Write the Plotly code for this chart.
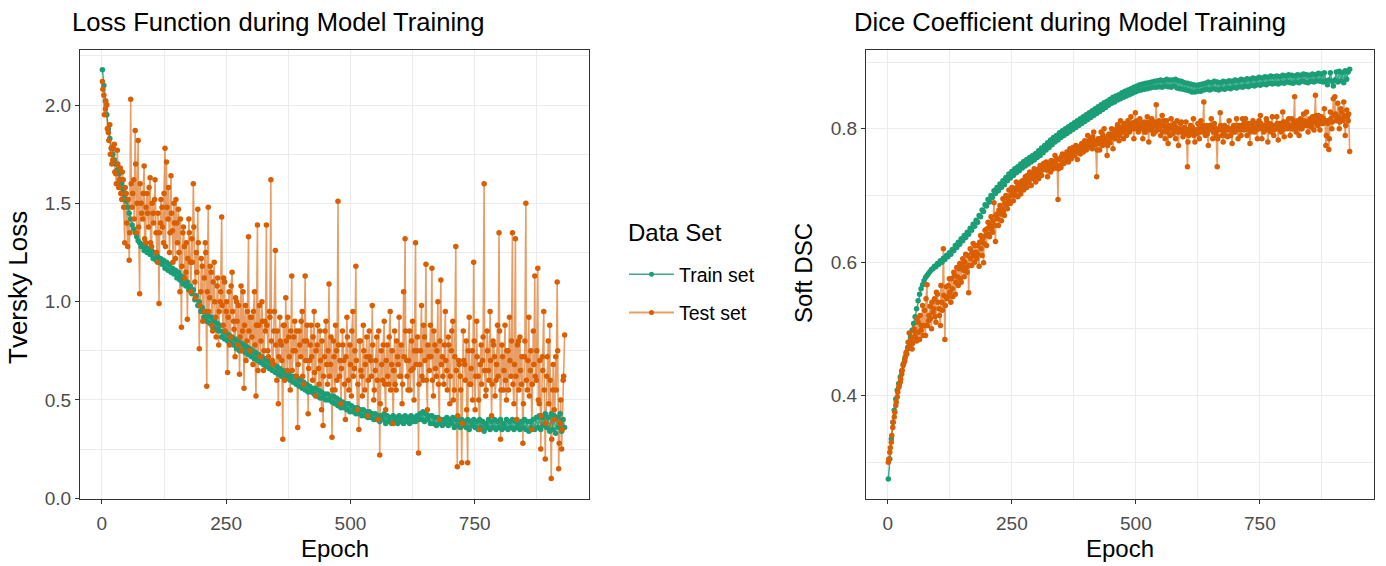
import plotly.graph_objects as go

# ---------------- data ----------------
# main readings every 3rd epoch (1, 4, 7, ...) and extra test-set readings in between (2, 5, 8, ...)
epochs = list(range(1, 932, 3))
epochs_b = list(range(2, 930, 3))

train_loss = [
    2.18, 2.10, 2.02, 1.95, 1.88, 1.83, 1.78, 1.75, 1.72, 1.70,
    1.67, 1.65, 1.62, 1.60, 1.57, 1.54, 1.51, 1.48, 1.45, 1.42,
    1.39, 1.37, 1.35, 1.33, 1.31, 1.30, 1.28, 1.29, 1.26, 1.28,
    1.25, 1.27, 1.24, 1.26, 1.22, 1.25, 1.21, 1.23, 1.20, 1.22,
    1.19, 1.21, 1.17, 1.20, 1.16, 1.19, 1.15, 1.17, 1.14, 1.16,
    1.12, 1.15, 1.11, 1.13, 1.09, 1.12, 1.08, 1.10, 1.06, 1.08,
    1.04, 1.06, 1.01, 1.03, 0.98, 1.00, 0.95, 0.97, 0.92, 0.95,
    0.90, 0.93, 0.89, 0.92, 0.87, 0.90, 0.86, 0.89, 0.85, 0.88,
    0.82, 0.85, 0.81, 0.84, 0.80, 0.83, 0.79, 0.82, 0.78, 0.81,
    0.76, 0.80, 0.75, 0.79, 0.75, 0.78, 0.74, 0.77, 0.73, 0.76,
    0.72, 0.75, 0.71, 0.74, 0.70, 0.73, 0.69, 0.72, 0.68, 0.71,
    0.67, 0.70, 0.66, 0.69, 0.65, 0.68, 0.64, 0.67, 0.63, 0.66,
    0.62, 0.65, 0.61, 0.64, 0.61, 0.63, 0.60, 0.62, 0.59, 0.62,
    0.58, 0.61, 0.57, 0.60, 0.56, 0.59, 0.55, 0.58, 0.54, 0.57,
    0.54, 0.56, 0.53, 0.56, 0.52, 0.55, 0.51, 0.54, 0.51, 0.53,
    0.50, 0.53, 0.50, 0.52, 0.49, 0.52, 0.48, 0.51, 0.47, 0.50,
    0.46, 0.49, 0.46, 0.48, 0.45, 0.48, 0.44, 0.47, 0.44, 0.46,
    0.43, 0.46, 0.43, 0.45, 0.42, 0.45, 0.42, 0.44, 0.41, 0.44,
    0.41, 0.43, 0.40, 0.43, 0.40, 0.42, 0.39, 0.42, 0.40, 0.43,
    0.38, 0.42, 0.39, 0.41, 0.38, 0.42, 0.39, 0.41, 0.38, 0.42,
    0.39, 0.41, 0.38, 0.42, 0.39, 0.41, 0.38, 0.42, 0.39, 0.41,
    0.39, 0.42, 0.40, 0.43, 0.40, 0.44, 0.39, 0.43, 0.40, 0.42,
    0.38, 0.42, 0.38, 0.41, 0.37, 0.41, 0.38, 0.40, 0.37, 0.40,
    0.38, 0.41, 0.37, 0.40, 0.38, 0.41, 0.36, 0.40, 0.37, 0.40,
    0.36, 0.40, 0.37, 0.39, 0.36, 0.40, 0.35, 0.39, 0.37, 0.40,
    0.36, 0.39, 0.35, 0.40, 0.36, 0.39, 0.34, 0.38, 0.36, 0.40,
    0.35, 0.39, 0.36, 0.40, 0.35, 0.39, 0.36, 0.40, 0.35, 0.38,
    0.36, 0.40, 0.35, 0.39, 0.36, 0.40, 0.35, 0.39, 0.36, 0.38,
    0.35, 0.39, 0.36, 0.40, 0.35, 0.39, 0.34, 0.39, 0.36, 0.40,
    0.35, 0.41, 0.36, 0.42, 0.35, 0.41, 0.37, 0.43, 0.36, 0.41,
    0.34, 0.43, 0.35, 0.42, 0.33, 0.41, 0.36, 0.43, 0.34, 0.40,
    0.36,
]

test_loss = [
    2.12, 2.05, 1.98, 2.00, 1.86, 1.90, 1.78, 1.72, 1.80, 1.65,
    1.77, 1.58, 1.68, 1.52, 1.62, 1.30, 1.55, 1.28, 1.21, 2.03,
    1.48, 1.62, 1.87, 1.35, 1.82, 1.04, 1.50, 1.42, 1.69, 1.30,
    1.55, 1.38, 1.63, 1.28, 1.45, 1.52, 1.35, 1.20, 0.99, 1.40,
    1.48, 1.30, 1.78, 1.71, 1.42, 1.25, 1.64, 1.36, 1.50, 1.22,
    1.40, 1.47, 1.05, 0.87, 1.35, 1.28, 1.15, 0.91, 1.42, 1.20,
    1.32, 1.60, 1.10, 1.25, 1.47, 0.76, 1.05, 1.18, 0.95, 1.30,
    0.57, 1.48, 1.02, 1.15, 0.85, 1.20, 0.92, 1.08, 0.78, 1.00,
    1.43, 0.88, 1.10, 0.95, 0.64, 1.05, 0.82, 1.15, 0.90, 0.72,
    1.00, 0.78, 0.63, 1.08, 0.85, 0.56, 0.98, 0.80, 1.33, 0.75,
    0.92, 0.68, 1.05, 0.52, 1.39, 0.88, 0.72, 1.00, 0.65, 0.90,
    1.39, 0.75, 0.95, 1.62, 0.70, 0.85, 1.26, 0.60, 0.48, 0.92,
    0.78, 0.30, 0.88, 1.02, 0.65, 0.82, 0.55, 1.13, 0.75, 0.90,
    0.62, 0.36, 0.85, 0.72, 0.95, 0.58, 1.13, 0.80, 0.43, 0.70,
    0.88, 0.60, 0.95, 0.52, 0.78, 0.66, 0.85, 0.45, 0.37, 0.72,
    0.90, 0.58, 1.09, 0.68, 0.31, 0.80, 0.55, 0.75, 1.51, 0.62,
    0.48, 0.85, 0.70, 0.40, 0.92, 0.60, 0.78, 0.52, 0.95, 0.66,
    1.18, 0.45, 0.35, 0.80, 0.62, 0.88, 0.55, 0.72, 0.42, 0.85,
    0.70, 0.98, 0.50, 0.65, 0.82, 0.40, 0.22, 0.75, 0.60, 0.90,
    0.45, 0.78, 0.58, 0.95, 0.68, 0.38, 0.85, 0.55, 0.72, 0.92,
    0.62, 0.48, 1.05, 1.32, 0.70, 0.55, 0.85, 0.65, 0.90, 0.50,
    1.30, 0.75, 0.23, 0.68, 0.98, 0.60, 0.82, 1.19, 0.45, 0.72,
    0.88, 1.17, 0.52, 0.78, 0.62, 1.00, 0.40, 1.11, 0.72, 0.58,
    0.95, 0.65, 0.82, 0.48, 0.75, 0.90, 0.55, 1.28, 0.16, 0.70,
    0.62, 0.18, 0.85, 0.68, 0.80, 0.18, 0.92, 0.58, 0.75, 1.20,
    0.45, 0.90, 0.62, 0.35, 0.78, 0.70, 1.60, 0.52, 0.85, 0.65,
    0.95, 0.42, 0.80, 0.72, 0.60, 0.88, 1.35, 0.30, 0.78, 0.55,
    0.88, 0.50, 0.75, 0.92, 0.62, 1.35, 0.48, 1.32, 0.40, 0.80,
    0.82, 0.58, 0.28, 0.72, 1.50, 0.55, 0.92, 0.65, 0.35, 0.85,
    1.13, 0.60, 1.17, 0.48, 0.25, 0.72, 0.95, 0.20, 0.62, 0.80,
    0.88, 0.10, 0.55, 0.45, 0.72, 1.10, 0.15, 0.38, 0.25, 0.60,
    0.83,
]

test_loss_b = [
    2.08, 1.95, 2.02, 1.88, 1.82, 1.75, 1.70, 1.78, 1.66, 1.60,
    1.70, 1.62, 1.55, 1.66, 1.48, 1.58, 1.40, 1.52, 1.35, 1.60,
    1.55, 1.42, 1.70, 1.50, 1.38, 1.60, 1.45, 1.55, 1.32, 1.48,
    1.45, 1.58, 1.30, 1.50, 1.40, 1.62, 1.25, 1.45, 1.35, 1.52,
    1.38, 1.55, 1.28, 1.48, 1.58, 1.35, 1.45, 1.20, 1.40, 1.52,
    1.30, 1.25, 1.42, 1.18, 1.38, 1.12, 1.30, 1.22, 1.35, 1.05,
    1.20, 1.38, 1.02, 1.15, 1.30, 0.98, 1.22, 0.90, 1.12, 1.25,
    1.05, 0.95, 1.18, 0.88, 1.10, 1.00, 0.82, 1.12, 0.95, 1.05,
    0.98, 1.12, 0.85, 1.00, 0.92, 0.78, 1.08, 0.95, 0.86, 1.02,
    0.90, 0.98, 0.82, 0.75, 1.05, 0.88, 0.70, 0.95, 0.85, 0.92,
    0.82, 0.95, 0.78, 0.88, 0.65, 0.98, 0.80, 0.90, 0.75, 0.85,
    0.88, 0.72, 0.92, 0.80, 0.68, 0.95, 0.78, 0.85, 0.72, 0.80,
    0.70, 0.88, 0.60, 0.80, 0.92, 0.72, 0.85, 0.65, 0.82, 0.75,
    0.85, 0.68, 0.78, 0.90, 0.62, 0.80, 0.70, 0.88, 0.66, 0.78,
    0.72, 0.82, 0.64, 0.75, 0.88, 0.58, 0.70, 0.80, 0.62, 0.85,
    0.68, 0.75, 0.62, 0.82, 0.55, 0.72, 0.88, 0.60, 0.78, 0.70,
    0.66, 0.78, 0.58, 0.72, 0.82, 0.55, 0.68, 0.85, 0.62, 0.75,
    0.70, 0.58, 0.80, 0.65, 0.52, 0.75, 0.68, 0.82, 0.60, 0.72,
    0.62, 0.78, 0.55, 0.70, 0.60, 0.85, 0.48, 0.68, 0.78, 0.58,
    0.70, 0.62, 0.82, 0.55, 0.75, 0.65, 0.58, 0.80, 0.68, 0.62,
    0.78, 0.58, 0.72, 0.85, 0.62, 0.70, 0.55, 0.80, 0.66, 0.75,
    0.68, 0.82, 0.58, 0.75, 0.62, 0.88, 0.70, 0.60, 0.78, 0.65,
    0.72, 0.60, 0.85, 0.66, 0.75, 0.58, 0.80, 0.68, 0.62, 0.78,
    0.70, 0.55, 0.78, 0.62, 0.85, 0.50, 0.72, 0.65, 0.42, 0.68,
    0.55, 0.38, 0.70, 0.60, 0.45, 0.75, 0.58, 0.66, 0.50, 0.80,
    0.62, 0.72, 0.50, 0.68, 0.58, 0.82, 0.65, 0.55, 0.75, 0.60,
    0.70, 0.58, 0.78, 0.52, 0.68, 0.62, 0.85, 0.55, 0.72, 0.65,
    0.60, 0.75, 0.55, 0.70, 0.80, 0.58, 0.68, 0.62, 0.78, 0.55,
    0.65, 0.72, 0.48, 0.80, 0.60, 0.70, 0.52, 0.75, 0.58, 0.68,
    0.62, 0.75, 0.50, 0.70, 0.42, 0.65, 0.55, 0.38, 0.72, 0.48,
    0.60, 0.30, 0.68, 0.40, 0.55, 0.75, 0.28, 0.50, 0.35, 0.62,
]

train_dsc = [
    0.275, 0.305, 0.335, 0.360, 0.378, 0.395, 0.408, 0.418, 0.428, 0.437,
    0.447, 0.455, 0.463, 0.472, 0.480, 0.488, 0.498, 0.508, 0.518, 0.530,
    0.542, 0.552, 0.560, 0.566, 0.572, 0.577, 0.580, 0.583, 0.586, 0.589,
    0.590, 0.594, 0.593, 0.598, 0.597, 0.602, 0.600, 0.606, 0.604, 0.610,
    0.608, 0.614, 0.612, 0.619, 0.617, 0.625, 0.622, 0.630, 0.627, 0.635,
    0.632, 0.640, 0.637, 0.645, 0.642, 0.651, 0.648, 0.657, 0.654, 0.663,
    0.660, 0.670, 0.668, 0.678, 0.676, 0.686, 0.684, 0.694, 0.690, 0.700,
    0.697, 0.707, 0.703, 0.712, 0.707, 0.717, 0.712, 0.722, 0.716, 0.727,
    0.722, 0.732, 0.726, 0.736, 0.730, 0.740, 0.734, 0.743, 0.737, 0.747,
    0.741, 0.751, 0.744, 0.754, 0.747, 0.757, 0.750, 0.760, 0.753, 0.763,
    0.757, 0.767, 0.760, 0.771, 0.764, 0.775, 0.768, 0.779, 0.772, 0.783,
    0.776, 0.787, 0.780, 0.790, 0.783, 0.794, 0.787, 0.797, 0.790, 0.800,
    0.793, 0.803, 0.796, 0.806, 0.799, 0.809, 0.802, 0.812, 0.805, 0.815,
    0.808, 0.818, 0.811, 0.821, 0.814, 0.824, 0.817, 0.827, 0.820, 0.830,
    0.823, 0.833, 0.826, 0.836, 0.829, 0.839, 0.832, 0.841, 0.835, 0.844,
    0.838, 0.847, 0.840, 0.849, 0.843, 0.851, 0.845, 0.854, 0.847, 0.856,
    0.849, 0.858, 0.851, 0.860, 0.853, 0.862, 0.855, 0.864, 0.857, 0.866,
    0.858, 0.867, 0.859, 0.868, 0.860, 0.869, 0.861, 0.870, 0.862, 0.871,
    0.862, 0.872, 0.863, 0.873, 0.862, 0.872, 0.864, 0.874, 0.863, 0.873,
    0.862, 0.873, 0.864, 0.874, 0.861, 0.872, 0.860, 0.871, 0.859, 0.869,
    0.858, 0.868, 0.857, 0.867, 0.855, 0.866, 0.855, 0.865, 0.856, 0.866,
    0.856, 0.867, 0.858, 0.868, 0.859, 0.870, 0.858, 0.869, 0.860, 0.871,
    0.859, 0.870, 0.858, 0.869, 0.860, 0.871, 0.859, 0.870, 0.861, 0.872,
    0.860, 0.871, 0.862, 0.873, 0.861, 0.872, 0.863, 0.874, 0.862, 0.873,
    0.864, 0.875, 0.863, 0.874, 0.865, 0.876, 0.864, 0.875, 0.866, 0.877,
    0.865, 0.876, 0.867, 0.878, 0.866, 0.877, 0.868, 0.879, 0.867, 0.878,
    0.868, 0.879, 0.867, 0.878, 0.869, 0.880, 0.868, 0.879, 0.870, 0.881,
    0.869, 0.880, 0.868, 0.879, 0.870, 0.881, 0.869, 0.880, 0.871, 0.882,
    0.870, 0.881, 0.869, 0.880, 0.871, 0.882, 0.870, 0.881, 0.872, 0.883,
    0.871, 0.882, 0.870, 0.884, 0.872, 0.866, 0.873, 0.884, 0.871, 0.864,
    0.873, 0.885, 0.870, 0.886, 0.872, 0.884, 0.869, 0.887, 0.874, 0.885,
    0.889,
]

test_dsc = [
    0.300, 0.315, 0.330, 0.352, 0.368, 0.385, 0.398, 0.412, 0.420, 0.432,
    0.445, 0.452, 0.465, 0.470, 0.494, 0.478, 0.470, 0.488, 0.495, 0.482,
    0.510, 0.484, 0.498, 0.535, 0.505, 0.490, 0.566, 0.512, 0.534, 0.500,
    0.525, 0.545, 0.510, 0.552, 0.530, 0.505, 0.540, 0.620, 0.484, 0.563,
    0.548, 0.575, 0.540, 0.560, 0.585, 0.552, 0.592, 0.565, 0.598, 0.570,
    0.605, 0.578, 0.612, 0.585, 0.554, 0.620, 0.595, 0.628, 0.600, 0.615,
    0.625, 0.594, 0.640, 0.610, 0.599, 0.648, 0.625, 0.660, 0.638, 0.668,
    0.645, 0.689, 0.631, 0.672, 0.655, 0.685, 0.662, 0.695, 0.670, 0.700,
    0.680, 0.708, 0.688, 0.712, 0.692, 0.705, 0.720, 0.698, 0.715, 0.702,
    0.722, 0.708, 0.728, 0.712, 0.724, 0.735, 0.715, 0.730, 0.740, 0.720,
    0.738, 0.725, 0.745, 0.730, 0.742, 0.739, 0.750, 0.728, 0.748, 0.735,
    0.752, 0.740, 0.760, 0.745, 0.694, 0.754, 0.742, 0.762, 0.748, 0.758,
    0.765, 0.750, 0.770, 0.755, 0.772, 0.760, 0.775, 0.754, 0.769, 0.762,
    0.778, 0.765, 0.782, 0.768, 0.790, 0.772, 0.785, 0.770, 0.795, 0.776,
    0.728, 0.785, 0.768, 0.795, 0.775, 0.800, 0.778, 0.760, 0.790, 0.779,
    0.800, 0.770, 0.795, 0.790, 0.806, 0.782, 0.812, 0.798, 0.785, 0.803,
    0.790, 0.812, 0.795, 0.818, 0.800, 0.785, 0.824, 0.805, 0.795, 0.815,
    0.800, 0.785, 0.810, 0.795, 0.818, 0.780, 0.805, 0.815, 0.792, 0.810,
    0.836, 0.798, 0.812, 0.790, 0.820, 0.805, 0.785, 0.812, 0.778, 0.800,
    0.815, 0.792, 0.808, 0.785, 0.812, 0.775, 0.795, 0.810, 0.788, 0.802,
    0.810, 0.743, 0.790, 0.805, 0.795, 0.815, 0.780, 0.798, 0.808, 0.785,
    0.812, 0.795, 0.840, 0.790, 0.805, 0.775, 0.800, 0.815, 0.785, 0.808,
    0.795, 0.743, 0.800, 0.824, 0.790, 0.780, 0.805, 0.800, 0.788, 0.812,
    0.790, 0.778, 0.805, 0.795, 0.815, 0.785, 0.805, 0.790, 0.815, 0.798,
    0.815, 0.790, 0.808, 0.778, 0.800, 0.812, 0.795, 0.808, 0.785, 0.812,
    0.820, 0.785, 0.805, 0.800, 0.815, 0.780, 0.808, 0.795, 0.818, 0.790,
    0.805, 0.818, 0.783, 0.808, 0.795, 0.825, 0.788, 0.810, 0.800, 0.815,
    0.790, 0.815, 0.800, 0.848, 0.795, 0.812, 0.790, 0.815, 0.800, 0.822,
    0.805, 0.825, 0.795, 0.812, 0.805, 0.818, 0.798, 0.850, 0.808, 0.820,
    0.798, 0.818, 0.808, 0.830, 0.775, 0.812, 0.769, 0.825, 0.800, 0.845,
    0.848, 0.812, 0.838, 0.800, 0.830, 0.815, 0.840, 0.790, 0.828, 0.812,
    0.766,
]

test_dsc_b = [
    0.305, 0.322, 0.340, 0.360, 0.375, 0.390, 0.405, 0.415, 0.425, 0.438,
    0.448, 0.458, 0.462, 0.480, 0.472, 0.485, 0.478, 0.500, 0.488, 0.515,
    0.495, 0.520, 0.505, 0.490, 0.528, 0.545, 0.505, 0.520, 0.515, 0.540,
    0.530, 0.518, 0.555, 0.540, 0.520, 0.565, 0.528, 0.550, 0.535, 0.545,
    0.565, 0.555, 0.575, 0.548, 0.580, 0.570, 0.578, 0.590, 0.575, 0.595,
    0.588, 0.600, 0.592, 0.610, 0.595, 0.605, 0.615, 0.610, 0.625, 0.605,
    0.612, 0.630, 0.620, 0.635, 0.628, 0.640, 0.650, 0.642, 0.655, 0.650,
    0.662, 0.655, 0.670, 0.665, 0.678, 0.672, 0.680, 0.676, 0.688, 0.685,
    0.695, 0.690, 0.700, 0.705, 0.710, 0.700, 0.712, 0.715, 0.708, 0.720,
    0.715, 0.722, 0.718, 0.730, 0.720, 0.728, 0.732, 0.725, 0.735, 0.730,
    0.732, 0.740, 0.735, 0.738, 0.748, 0.742, 0.738, 0.745, 0.740, 0.752,
    0.745, 0.750, 0.748, 0.755, 0.740, 0.745, 0.758, 0.750, 0.760, 0.752,
    0.758, 0.765, 0.760, 0.768, 0.762, 0.770, 0.765, 0.772, 0.768, 0.775,
    0.770, 0.776, 0.772, 0.780, 0.778, 0.782, 0.776, 0.788, 0.782, 0.780,
    0.768, 0.778, 0.785, 0.780, 0.790, 0.785, 0.782, 0.775, 0.792, 0.786,
    0.788, 0.795, 0.785, 0.800, 0.795, 0.790, 0.802, 0.795, 0.808, 0.798,
    0.800, 0.805, 0.798, 0.808, 0.802, 0.810, 0.800, 0.812, 0.805, 0.800,
    0.808, 0.800, 0.795, 0.805, 0.800, 0.810, 0.798, 0.802, 0.808, 0.795,
    0.805, 0.810, 0.800, 0.805, 0.795, 0.812, 0.800, 0.795, 0.805, 0.790,
    0.800, 0.805, 0.798, 0.802, 0.795, 0.800, 0.808, 0.795, 0.800, 0.792,
    0.795, 0.780, 0.800, 0.795, 0.802, 0.790, 0.798, 0.792, 0.800, 0.795,
    0.802, 0.805, 0.798, 0.800, 0.792, 0.798, 0.805, 0.800, 0.795, 0.802,
    0.790, 0.785, 0.798, 0.805, 0.800, 0.795, 0.790, 0.802, 0.798, 0.800,
    0.798, 0.800, 0.795, 0.802, 0.805, 0.800, 0.798, 0.805, 0.800, 0.808,
    0.805, 0.800, 0.798, 0.795, 0.802, 0.806, 0.800, 0.798, 0.805, 0.800,
    0.808, 0.800, 0.795, 0.805, 0.810, 0.798, 0.802, 0.806, 0.800, 0.798,
    0.800, 0.808, 0.802, 0.798, 0.805, 0.810, 0.800, 0.805, 0.808, 0.802,
    0.805, 0.800, 0.812, 0.808, 0.802, 0.805, 0.810, 0.800, 0.808, 0.812,
    0.810, 0.805, 0.808, 0.815, 0.802, 0.810, 0.812, 0.820, 0.805, 0.815,
    0.810, 0.808, 0.815, 0.812, 0.790, 0.808, 0.785, 0.815, 0.810, 0.820,
    0.822, 0.815, 0.818, 0.810, 0.825, 0.812, 0.820, 0.805, 0.818, 0.822,
]

series_names = ["Train set", "Test set"]
x_ticks = [0, 250, 500, 750]

# test-set series: both sets of readings in epoch order
test_epochs, test_loss_all = zip(*sorted(zip(epochs + epochs_b, test_loss + test_loss_b)))
_, test_dsc_all = zip(*sorted(zip(epochs + epochs_b, test_dsc + test_dsc_b)))

# ---------------- styling ----------------
W, H = 1386, 566
TRAIN = "#1B9E77"
TEST = "#D95F02"
TRAIN_LINE = "rgba(27,158,119,0.85)"
TEST_LINE = "rgba(217,95,2,0.6)"
FONT = "Liberation Sans, Arial, sans-serif"
GRID = "#EBEBEB"
BORDER = "#333333"


def px(x):
    return x / W


def py(y):
    return 1 - y / H


fig = go.Figure()

panels = [
    ("x", "y", train_loss, test_loss_all),
    ("x2", "y2", train_dsc, test_dsc_all),
]
for xa, ya, tr, te in panels:
    fig.add_trace(go.Scatter(x=epochs, y=tr, mode="lines", xaxis=xa, yaxis=ya,
                             line=dict(color=TRAIN_LINE, width=1.5), showlegend=False,
                             hoverinfo="skip"))
    fig.add_trace(go.Scatter(x=list(test_epochs), y=list(te), mode="lines", xaxis=xa, yaxis=ya,
                             line=dict(color=TEST_LINE, width=1.6), showlegend=False,
                             hoverinfo="skip"))
    fig.add_trace(go.Scatter(x=epochs, y=tr, mode="markers", xaxis=xa, yaxis=ya,
                             marker=dict(color=TRAIN, size=5.5), showlegend=False,
                             name=series_names[0]))
    fig.add_trace(go.Scatter(x=list(test_epochs), y=list(te), mode="markers", xaxis=xa, yaxis=ya,
                             marker=dict(color=TEST, size=5.5), showlegend=False,
                             name=series_names[1]))

# legend entries
fig.add_trace(go.Scatter(x=[None], y=[None], mode="lines+markers", name=series_names[0],
                         line=dict(color=TRAIN_LINE, width=1.5),
                         marker=dict(color=TRAIN, size=5), legendgroup="a"))
fig.add_trace(go.Scatter(x=[None], y=[None], mode="lines+markers", name=series_names[1],
                         line=dict(color=TEST_LINE, width=1.8),
                         marker=dict(color=TEST, size=5), legendgroup="b"))

x_common = dict(
    range=[-44, 980], tickmode="array", tickvals=x_ticks, ticktext=[str(t) for t in x_ticks],
    showgrid=True, gridcolor=GRID, gridwidth=1.2,
    minor=dict(dtick=125, tick0=0, showgrid=True, gridcolor=GRID, gridwidth=0.6),
    zeroline=False, showline=True, mirror=True, linecolor=BORDER, linewidth=1,
    ticks="outside", ticklen=4, tickcolor=BORDER, tickwidth=1,
    tickfont=dict(size=19, color="#4D4D4D", family=FONT), automargin=False,
    ticklabelstandoff=3,
)
y_common = dict(
    showgrid=True, gridcolor=GRID, gridwidth=1.2,
    zeroline=False, showline=True, mirror=True, linecolor=BORDER, linewidth=1,
    ticks="outside", ticklen=4, tickcolor=BORDER, tickwidth=1,
    tickfont=dict(size=19, color="#4D4D4D", family=FONT), automargin=False,
)

ytop, ybot = py(50), py(499)

fig.update_layout(
    width=W, height=H,
    margin=dict(l=0, r=0, t=0, b=0),
    paper_bgcolor="white", plot_bgcolor="white",
    font=dict(family=FONT, color="black"),
    xaxis=dict(domain=[px(80), px(589)], anchor="y", **x_common),
    yaxis=dict(domain=[ybot, ytop], anchor="x", range=[-0.004, 2.28],
               tick0=0, dtick=0.5, tickformat=".1f",
               minor=dict(dtick=0.25, tick0=0, showgrid=True, gridcolor=GRID, gridwidth=0.6),
               **y_common),
    xaxis2=dict(domain=[px(866), px(1374)], anchor="y2", **x_common),
    yaxis2=dict(domain=[ybot, ytop], anchor="x2", range=[0.245, 0.918],
                tick0=0, dtick=0.2, tickformat=".1f",
                minor=dict(dtick=0.1, tick0=0, showgrid=True, gridcolor=GRID, gridwidth=0.6),
                **y_common),
    legend=dict(
        x=px(624), y=py(255), xanchor="left", yanchor="top",
        font=dict(size=19.5, family=FONT, color="black"),
        itemwidth=45, tracegroupgap=10, bgcolor="rgba(0,0,0,0)",
    ),
    showlegend=True,
)

annotations = [
    dict(text="Loss Function during Model Training", x=px(70), y=py(22), xanchor="left",
         yanchor="middle", font=dict(size=25.6, family=FONT, color="black")),
    dict(text="Dice Coefficient during Model Training", x=px(852), y=py(22), xanchor="left",
         yanchor="middle", font=dict(size=25.6, family=FONT, color="black")),
    dict(text="Data Set", x=px(626), y=py(232), xanchor="left", yanchor="middle",
         font=dict(size=24, family=FONT, color="black")),
    dict(text="Epoch", x=px(334.5), y=py(548), xanchor="center", yanchor="middle",
         font=dict(size=24, family=FONT, color="black")),
    dict(text="Epoch", x=px(1120), y=py(548), xanchor="center", yanchor="middle",
         font=dict(size=24, family=FONT, color="black")),
    dict(text="Tversky Loss", x=px(18), y=py(288), xanchor="center", yanchor="middle",
         textangle=-90, font=dict(size=26, family=FONT, color="black")),
    dict(text="Soft DSC", x=px(803), y=py(273), xanchor="center", yanchor="middle",
         textangle=-90, font=dict(size=24, family=FONT, color="black")),
]
for a in annotations:
    a.update(xref="paper", yref="paper", showarrow=False)
fig.update_layout(annotations=annotations)

# remove the default 8px page margin so the 1386x566 figure fills the window exactly
fig.write_html(
    "out.html",
    config={"displayModeBar": False},
    post_script="document.body.style.margin='0';document.body.style.padding='0';"
                "document.body.style.overflow='hidden';",
)
